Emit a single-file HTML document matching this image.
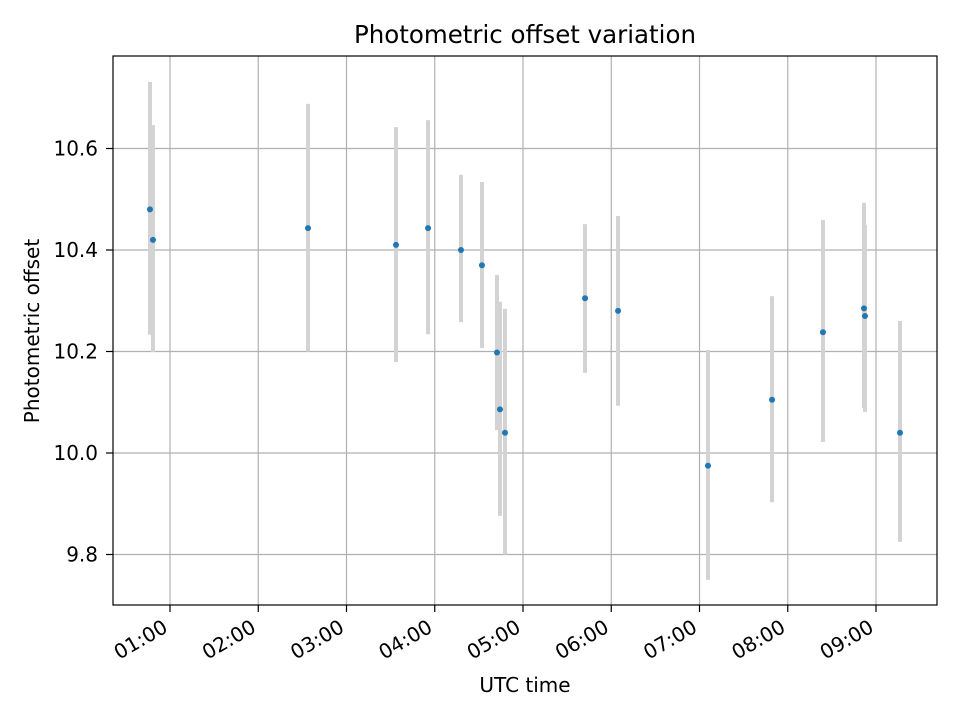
<!DOCTYPE html>
<html><head><meta charset="utf-8"><style>
html,body{margin:0;padding:0;background:#fff;}
svg text{font-family:"DejaVu Sans","Liberation Sans",sans-serif;fill:#000;}
</style></head><body>
<svg id="chart" width="960" height="720" xmlns="http://www.w3.org/2000/svg">
<rect width="960" height="720" fill="#fff"/>
<text x="525" y="43" font-size="24.5" text-anchor="middle">Photometric offset variation</text>
<text x="525" y="692" font-size="20" text-anchor="middle">UTC time</text>
<text transform="translate(39,331) rotate(-90)" font-size="20" text-anchor="middle">Photometric offset</text>
<g id="grid"></g><g id="bars"></g><g id="pts"></g><g id="ticks"></g>
<rect x="113" y="56" width="824" height="549" fill="none" stroke="#000" stroke-width="1.2"/>
</svg>
<script>
// time in decimal hours UTC
const times = [0.773,0.807,2.564,3.561,3.924,4.297,4.535,4.705,4.739,4.796,5.703,6.077,7.096,7.822,8.399,8.864,8.875,9.272];
const offsets = [10.48,10.42,10.443,10.41,10.443,10.40,10.37,10.198,10.086,10.04,10.305,10.28,9.975,10.105,10.238,10.285,10.27,10.04];
const errTop = [10.731,10.646,10.688,10.642,10.656,10.548,10.534,10.351,10.298,10.284,10.451,10.467,10.203,10.309,10.459,10.493,10.449,10.26];
const errBottom = [10.233,10.199,10.2,10.179,10.234,10.258,10.207,10.045,9.876,9.8,10.158,10.093,9.75,9.903,10.022,10.089,10.081,9.825];
const xTicks = [1,2,3,4,5,6,7,8,9];
const xTickLabels = ["01:00","02:00","03:00","04:00","05:00","06:00","07:00","08:00","09:00"];
const yTicks = [9.8,10.0,10.2,10.4,10.6];
const yTickLabels = ["9.8","10.0","10.2","10.4","10.6"];

const NS="http://www.w3.org/2000/svg";
function X(h){return 170+(h-1)*88.25;}
function Y(v){return 453-(v-10)*507.5;}
function mk(tag,attrs,parent){const e=document.createElementNS(NS,tag);for(const k in attrs)e.setAttribute(k,attrs[k]);document.getElementById(parent).appendChild(e);return e;}
xTicks.forEach((t,i)=>{
  const g=mk('line',{x1:X(t),x2:X(t),y1:56,y2:605,stroke:'#b0b0b0','stroke-width':1.2},'grid');
  
  
  const tk=mk('line',{x1:X(t),x2:X(t),y1:605,y2:612,stroke:'#000','stroke-width':1.2},'ticks');
  
  
  const tx=mk('text',{transform:`translate(${X(t)-1},${631}) rotate(-30)`,'font-size':20,'text-anchor':'end'},'ticks');
  tx.textContent=xTickLabels[i];
  
  
});
yTicks.forEach((t,i)=>{
  const g=mk('line',{x1:113,x2:937,y1:Y(t),y2:Y(t),stroke:'#b0b0b0','stroke-width':1.2},'grid');
  
  
  const tk=mk('line',{x1:106,x2:113,y1:Y(t),y2:Y(t),stroke:'#000','stroke-width':1.2},'ticks');
  
  
  const tx=mk('text',{x:98,y:Y(t)+7,'font-size':20,'text-anchor':'end'},'ticks');
  tx.textContent=yTickLabels[i];
  
  
});
times.forEach((t,i)=>{
  const b=mk('line',{x1:X(t),x2:X(t),y1:Y(errTop[i]),y2:Y(errBottom[i]),stroke:'#d3d3d3','stroke-width':4},'bars');
  
  
  const p=mk('circle',{cx:X(t),cy:Y(offsets[i]),r:3,fill:'#1f77b4'},'pts');
  
  
});
</script>
</body></html>
